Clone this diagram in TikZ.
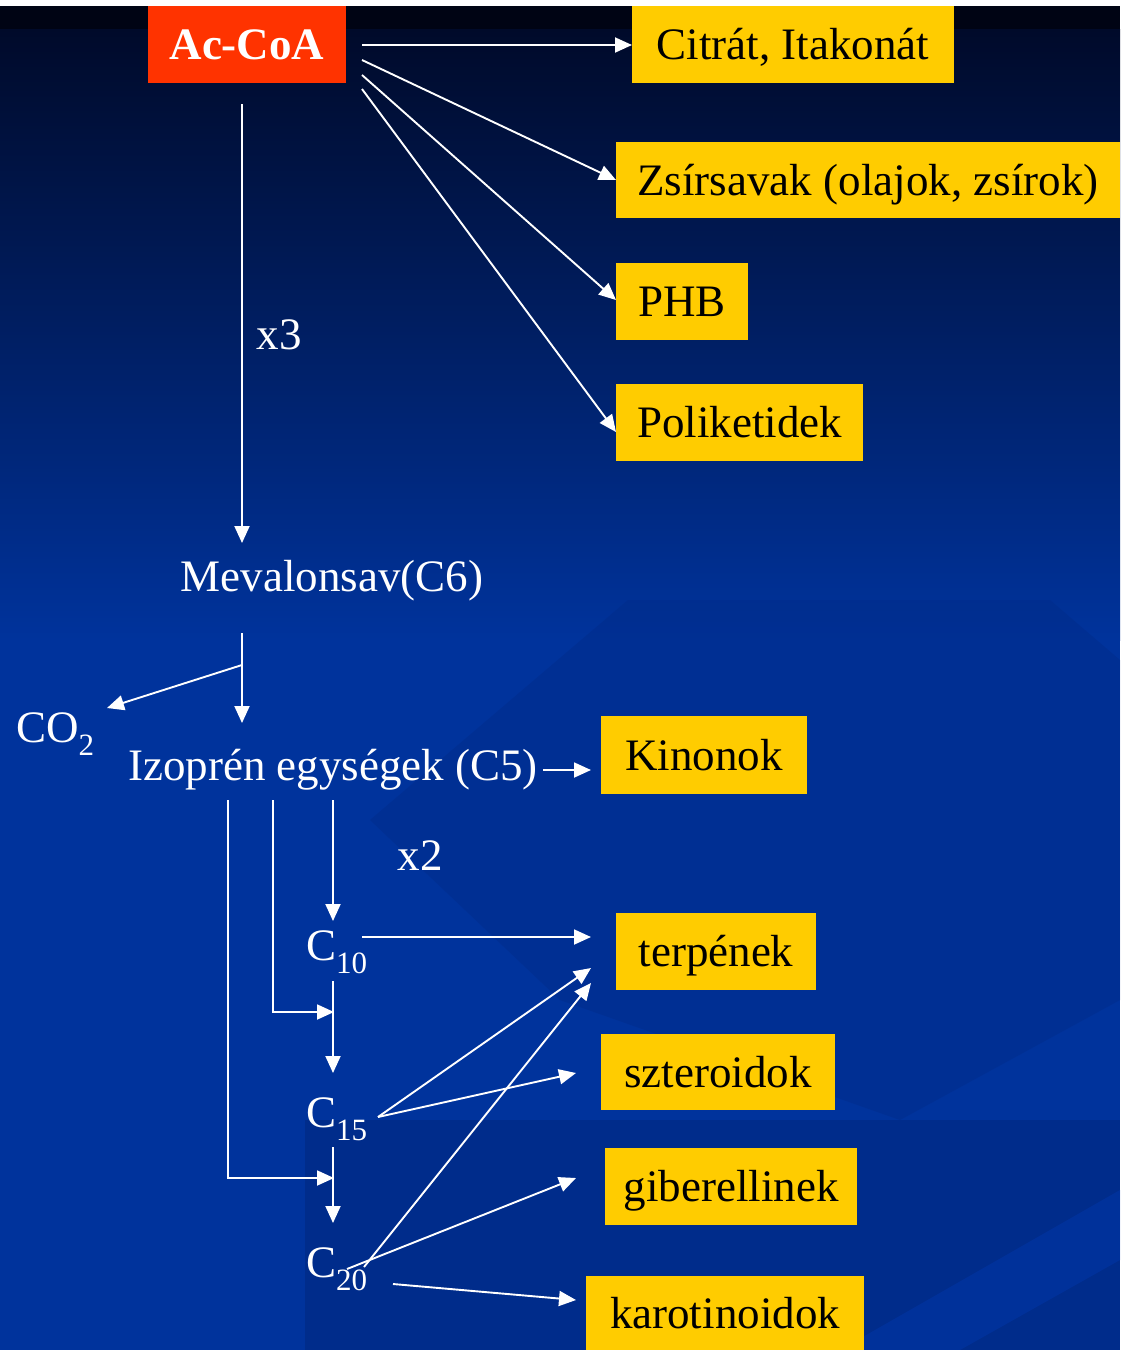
\documentclass[tikz,border=0pt]{standalone}
\usepackage{fontspec}
\setmainfont{Liberation Serif}
\usetikzlibrary{arrows.meta}
\definecolor{boxyellow}{HTML}{FFCC00}
\definecolor{boxred}{HTML}{FF3300}
\definecolor{bgtop}{HTML}{000414}
\definecolor{bgupper}{HTML}{000A2A}
\definecolor{bgblue}{HTML}{00339C}
\definecolor{bgdark}{HTML}{002A86}
\definecolor{bglight}{HTML}{0038AE}
\begin{document}
\begin{tikzpicture}[x=1pt,y=-1pt,
  ybox/.style={fill=boxyellow, text=black, inner sep=0pt, font=\fontsize{45}{50}\selectfont, text height=35pt, text depth=5pt},
  rbox/.style={fill=boxred, text=white, inner sep=0pt, font=\bfseries\fontsize{45}{50}\selectfont, text height=35pt, text depth=5pt},
  lbl/.style={text=white, inner sep=0pt, font=\fontsize{45}{50}\selectfont, text height=35pt, text depth=5pt},
  wline/.style={draw=white, line width=1.9pt},
  arr/.style={wline, -{Triangle[length=17pt,width=15pt]}}]
% background
\useasboundingbox (0,0) rectangle (1120,1350);
\fill[bgblue] (0,0) rectangle (1120,1350);
\shade[top color=bgupper, bottom color=bgblue] (0,29) rectangle (1120,640);
\fill[bgtop] (0,6) rectangle (1120,29);
\fill[white] (0,0) rectangle (1120,6);
\fill[bgdark, opacity=0.4] (628,600) -- (1050,600) -- (1120,660) -- (1120,1000) -- (900,1120) -- (560,1000) -- (370,820) -- cycle;
\fill[bgdark, opacity=0.75] (305,1120) rectangle (1120,1350);
\fill[bglight, opacity=0.45] (840,1350) -- (1120,1190) -- (1120,1260) -- (960,1350) -- cycle;

% boxes
\node[rbox, minimum width=198pt, minimum height=77pt] (accoa) at (247,44.5) {Ac-CoA};
\node[ybox, minimum width=322pt, minimum height=77pt] (citrat) at (793,44.5) {Citrát, Itakonát};
\node[ybox, minimum width=504pt, minimum height=76pt] (zsir) at (868,180) {Zsírsavak (olajok, zsírok)};
\node[ybox, minimum width=132pt, minimum height=77pt] (phb) at (682,301.5) {PHB};
\node[ybox, minimum width=247pt, minimum height=77pt] (polik) at (739.5,422.5) {Poliketidek};
\node[ybox, minimum width=206pt, minimum height=78pt] (kinon) at (704,755) {Kinonok};
\node[ybox, minimum width=200pt, minimum height=77pt] (terp) at (716,951.5) {terpének};
\node[ybox, minimum width=234pt, minimum height=76pt] (szter) at (718,1072) {szteroidok};
\node[ybox, minimum width=252pt, minimum height=77pt] (giber) at (731,1186.5) {giberellinek};
\node[ybox, minimum width=278pt, minimum height=74pt] (karot) at (725,1313) {karotinoidok};

% labels
\node[lbl] (x3) at (279,334) {x3};
\node[lbl] (meval) at (332,576) {Mevalonsav(C6)};
\node[lbl, anchor=west] (co2) at (16,727) {CO\raisebox{-13pt}{\fontsize{31}{31}\selectfont 2}};
\node[lbl] (izo) at (333,765) {Izoprén egységek (C5)};
\node[lbl] (x2) at (420,855) {x2};
\node[lbl, anchor=west] (c10) at (306,945) {C\raisebox{-13pt}{\fontsize{31}{31}\selectfont 10}};
\node[lbl, anchor=west] (c15) at (306,1112) {C\raisebox{-13pt}{\fontsize{31}{31}\selectfont 15}};
\node[lbl, anchor=west] (c20) at (306,1262) {C\raisebox{-13pt}{\fontsize{31}{31}\selectfont 20}};

% coordinates
\coordinate (a0) at (362,45);   \coordinate (a0e) at (632,45);
\coordinate (a1) at (362,60);   \coordinate (a1e) at (616,180);
\coordinate (a2) at (362,75);   \coordinate (a2e) at (616,300);
\coordinate (a3) at (362,89);   \coordinate (a3e) at (616,432);
\coordinate (v1s) at (242,104); \coordinate (v1e) at (242,543);
\coordinate (v2s) at (242,633); \coordinate (v2e) at (242,723);
\coordinate (br) at (242,665);  \coordinate (co2e) at (107,708);
\coordinate (izoS) at (543,770); \coordinate (izoE) at (591,770);
\coordinate (m1s) at (333,800); \coordinate (m1e) at (333,921);
\coordinate (l2s) at (273,800); \coordinate (l2c) at (273,1012); \coordinate (l2e) at (334,1012);
\coordinate (l3s) at (228,800); \coordinate (l3c) at (228,1178); \coordinate (l3e) at (334,1178);
\coordinate (m2s) at (333,981); \coordinate (m2e) at (333,1073);
\coordinate (m3s) at (333,1147); \coordinate (m3e) at (333,1223);
\coordinate (c10s) at (362,937); \coordinate (c10e) at (591,937);
\coordinate (c15s) at (378,1117); \coordinate (c15t) at (591,968); \coordinate (c15z) at (576,1073);
\coordinate (c20a) at (364,1267); \coordinate (c20t) at (591,983);
\coordinate (c20b) at (347,1269); \coordinate (c20g) at (576,1178);
\coordinate (c20c) at (393,1284); \coordinate (c20k) at (576,1300);

% connectors
\draw[arr] (a0) -- (a0e);
\draw[arr] (a1) -- (a1e);
\draw[arr] (a2) -- (a2e);
\draw[arr] (a3) -- (a3e);
\draw[arr] (v1s) -- (v1e);
\draw[arr] (v2s) -- (v2e);
\draw[arr] (br) -- (co2e);
\draw[arr] (izoS) -- (izoE);
\draw[arr] (m1s) -- (m1e);
\draw[arr] (l2s) -- (l2c) -- (l2e);
\draw[arr] (l3s) -- (l3c) -- (l3e);
\draw[arr] (m2s) -- (m2e);
\draw[arr] (m3s) -- (m3e);
\draw[arr] (c10s) -- (c10e);
\draw[arr] (c15s) -- (c15t);
\draw[arr] (c15s) -- (c15z);
\draw[arr] (c20a) -- (c20t);
\draw[arr] (c20b) -- (c20g);
\draw[arr] (c20c) -- (c20k);
\end{tikzpicture}
\end{document}
